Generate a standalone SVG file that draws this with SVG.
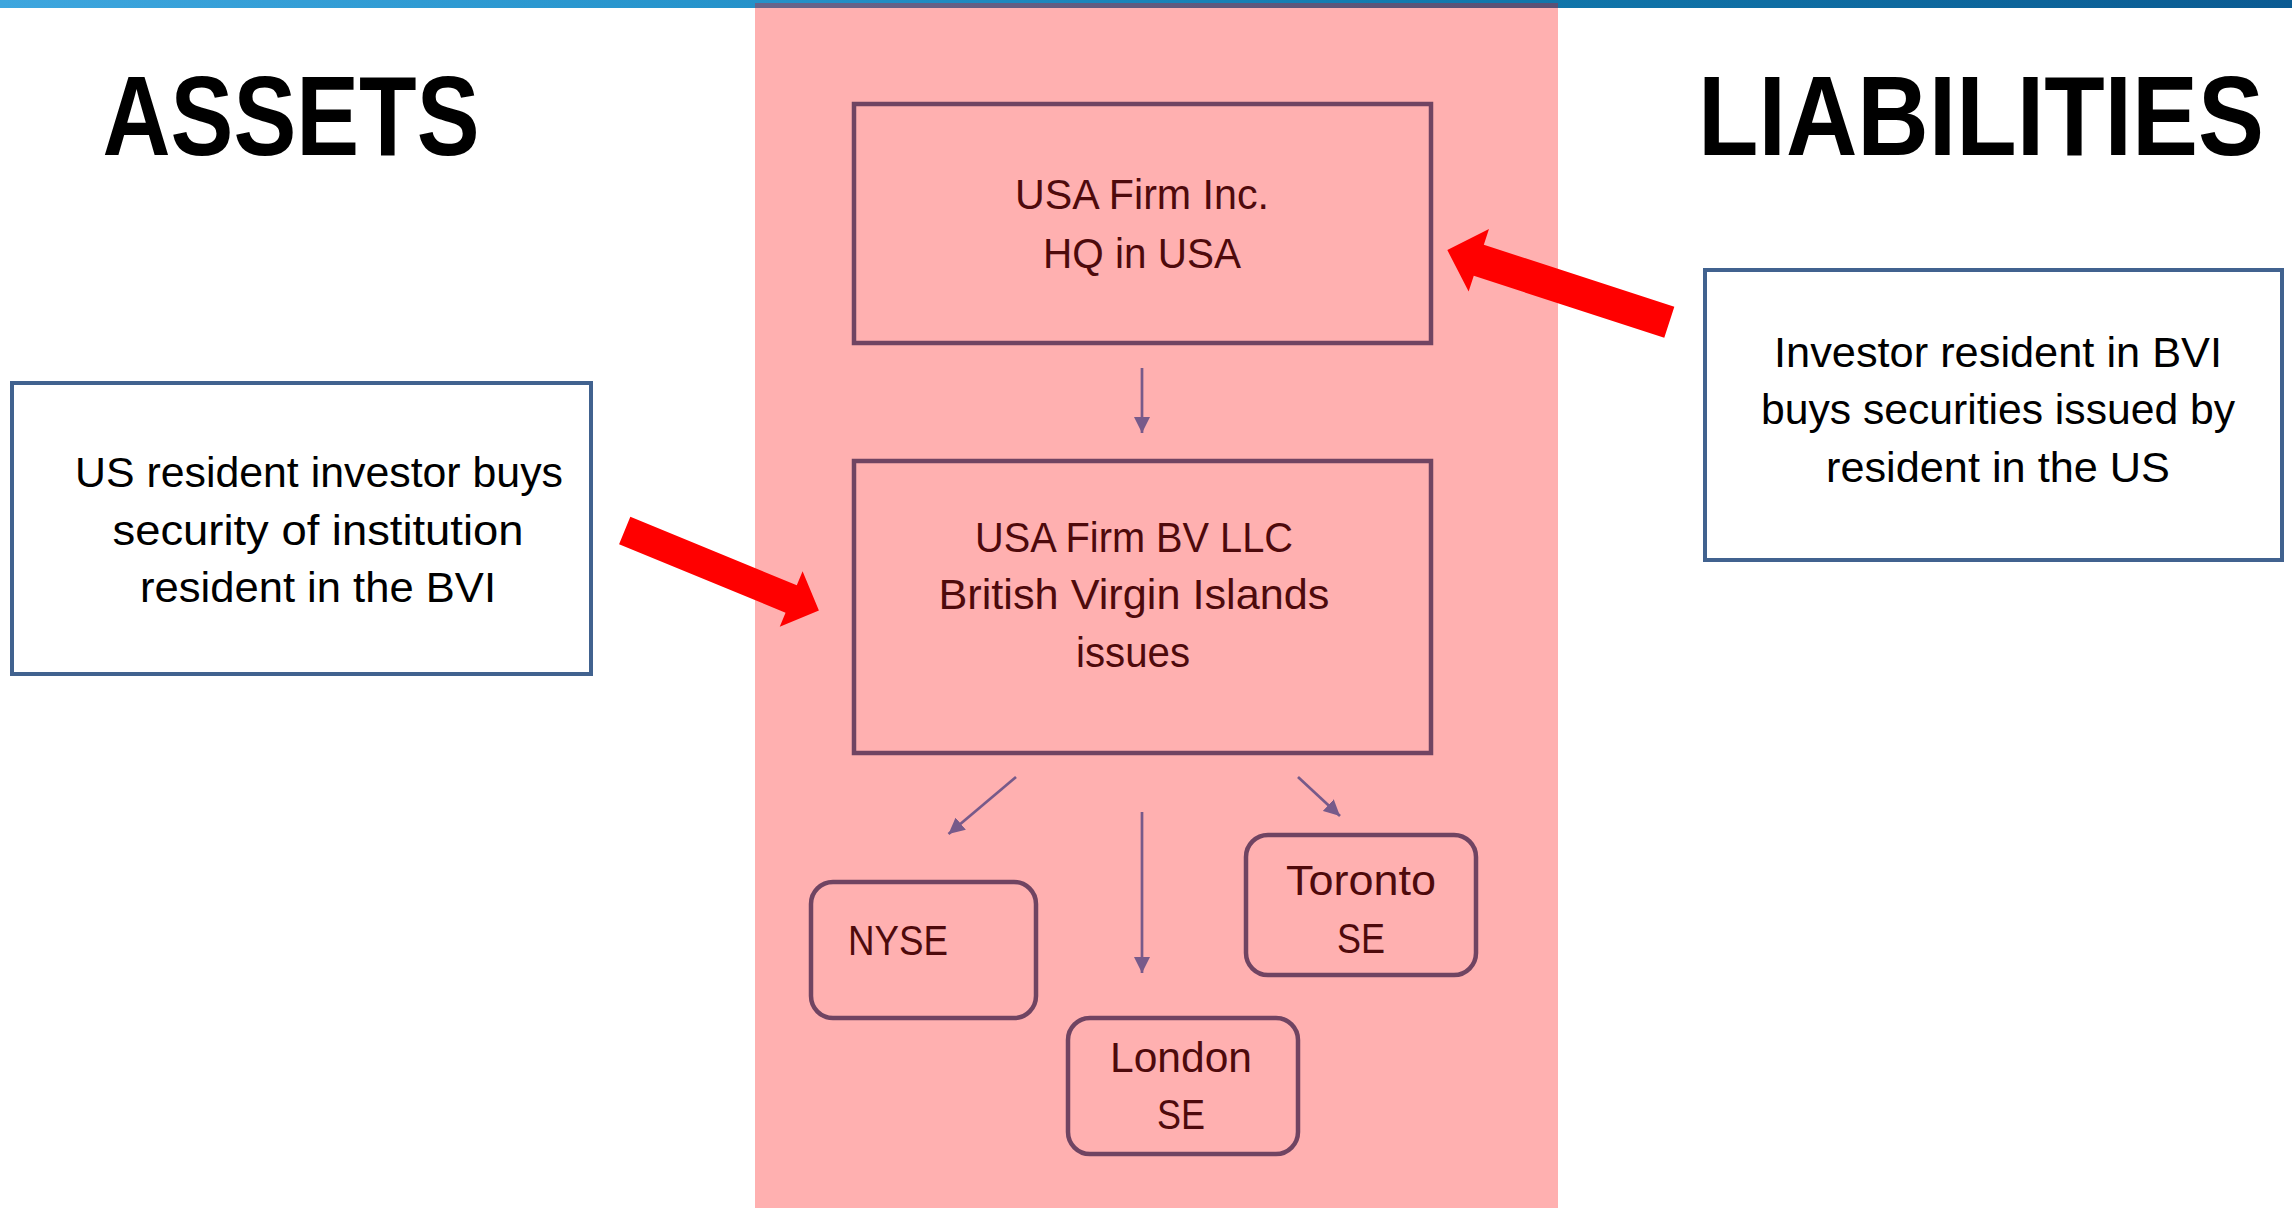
<svg xmlns="http://www.w3.org/2000/svg" width="2292" height="1208" viewBox="0 0 2292 1208">
  <defs>
    <linearGradient id="bar" x1="0" y1="0" x2="1" y2="0">
      <stop offset="0" stop-color="#3ea6de"/>
      <stop offset="0.3" stop-color="#2794cc"/>
      <stop offset="0.6" stop-color="#127cb0"/>
      <stop offset="1" stop-color="#0b5b92"/>
    </linearGradient>
    <marker id="ah" viewBox="0 0 16 16" refX="16" refY="8" markerWidth="16" markerHeight="16" markerUnits="userSpaceOnUse" orient="auto">
      <path d="M0,0 L16,8 L0,16 z" fill="#775a8a"/>
    </marker>
    <style>
      .title { font-family: "Liberation Sans", Arial, sans-serif; font-weight: bold; font-size: 100px; fill: #000; text-anchor: middle; }
      .ntext { font-family: "Liberation Sans", Arial, sans-serif; font-size: 42px; fill: #4e0a0c; text-anchor: middle; }
      .btext { font-family: "Liberation Sans", Arial, sans-serif; font-size: 42px; fill: #000; text-anchor: middle; }
      .pbox { fill: none; stroke: #704462; stroke-width: 4.5; }
      .wbox { fill: #fff; stroke: #41628f; stroke-width: 4; }
      .conn { stroke: #775a8a; stroke-width: 2.7; fill: none; marker-end: url(#ah); }
      .block { fill: #ff0000; }
    </style>
  </defs>

  <rect x="0" y="0" width="2292" height="1208" fill="#fff"/>
  <rect id="topbar" x="0" y="0" width="2292" height="8" fill="url(#bar)"/>
  <rect id="panel" x="755" y="3" width="803" height="1205" fill="#ff0000" fill-opacity="0.31"/>

  <text class="title" transform="translate(291,155) scale(1,1.14)" x="0" y="0" textLength="377" lengthAdjust="spacingAndGlyphs">ASSETS</text>
  <text class="title" transform="translate(1981,155) scale(1,1.14)" x="0" y="0" textLength="566" lengthAdjust="spacingAndGlyphs">LIABILITIES</text>

  <g id="usa-firm-inc">
    <rect class="pbox" x="854" y="104" width="577" height="239"/>
    <text class="ntext" x="1142" y="209" textLength="254" lengthAdjust="spacingAndGlyphs">USA Firm Inc.</text>
    <text class="ntext" x="1142" y="268" textLength="198" lengthAdjust="spacingAndGlyphs">HQ in USA</text>
  </g>

  <g id="usa-firm-bv">
    <rect class="pbox" x="854" y="461" width="577" height="292"/>
    <text class="ntext" x="1134" y="552" textLength="318" lengthAdjust="spacingAndGlyphs">USA Firm BV LLC</text>
    <text class="ntext" x="1134" y="609" textLength="391" lengthAdjust="spacingAndGlyphs">British Virgin Islands</text>
    <text class="ntext" x="1133" y="667" textLength="114" lengthAdjust="spacingAndGlyphs">issues</text>
  </g>

  <g id="nyse">
    <rect class="pbox" x="811" y="882" width="225" height="136" rx="22"/>
    <text class="ntext" x="848" y="955" style="text-anchor:start" textLength="100" lengthAdjust="spacingAndGlyphs">NYSE</text>
  </g>

  <g id="london">
    <rect class="pbox" x="1068" y="1018" width="230" height="136" rx="22"/>
    <text class="ntext" x="1181" y="1072" textLength="142" lengthAdjust="spacingAndGlyphs">London</text>
    <text class="ntext" x="1181" y="1129" textLength="48" lengthAdjust="spacingAndGlyphs">SE</text>
  </g>

  <g id="toronto">
    <rect class="pbox" x="1246" y="835" width="230" height="140" rx="22"/>
    <text class="ntext" x="1361" y="895" textLength="150" lengthAdjust="spacingAndGlyphs">Toronto</text>
    <text class="ntext" x="1361" y="953" textLength="48" lengthAdjust="spacingAndGlyphs">SE</text>
  </g>

  <g id="us-investor">
    <rect class="wbox" x="12" y="383" width="579" height="291"/>
    <text class="btext" x="319" y="487" textLength="488" lengthAdjust="spacingAndGlyphs">US resident investor buys</text>
    <text class="btext" x="318" y="545" textLength="411" lengthAdjust="spacingAndGlyphs">security of institution</text>
    <text class="btext" x="318" y="602" textLength="356" lengthAdjust="spacingAndGlyphs">resident in the BVI</text>
  </g>

  <g id="bvi-investor">
    <rect class="wbox" x="1705" y="270" width="577" height="290"/>
    <text class="btext" x="1998" y="367" textLength="448" lengthAdjust="spacingAndGlyphs">Investor resident in BVI</text>
    <text class="btext" x="1998" y="424" textLength="474" lengthAdjust="spacingAndGlyphs">buys securities issued by</text>
    <text class="btext" x="1998" y="482" textLength="344" lengthAdjust="spacingAndGlyphs">resident in the US</text>
  </g>

  <g id="connectors">
    <line class="conn" x1="1142" y1="368" x2="1142" y2="433"/>
    <line class="conn" x1="1016" y1="777" x2="948.5" y2="834"/>
    <line class="conn" x1="1142" y1="812" x2="1142" y2="973"/>
    <line class="conn" x1="1298" y1="777" x2="1340" y2="816"/>
    <polygon class="block" transform="translate(624.7,530.5) rotate(22.36)" points="0,-14.8 180,-14.8 180,-30 210,0 180,30 180,14.8 0,14.8"/>
    <polygon class="block" transform="translate(1669.3,322.2) rotate(198)" points="0,-16.3 200.3,-16.3 200.3,-32.9 233.4,0 200.3,32.9 200.3,16.3 0,16.3"/>
  </g>
</svg>
